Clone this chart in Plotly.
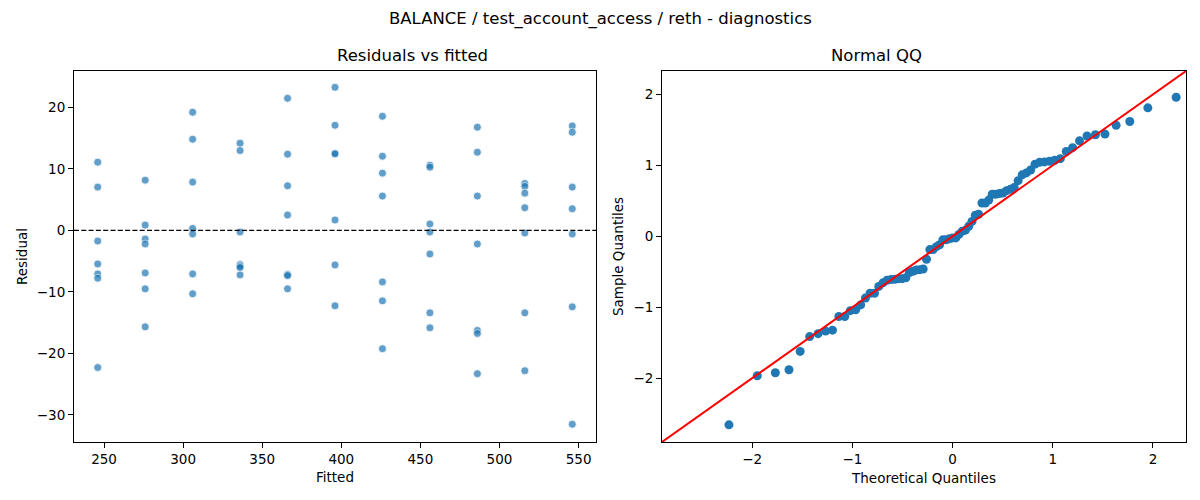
import numpy as np
import plotly.graph_objects as go
from statistics import NormalDist

# fitted value levels (7 observations each)
fitted_levels = [246, 276, 306, 336, 366, 396, 426, 456, 486, 516, 546]

residuals = [
    11.08, 7.03, -1.73, -5.46, -7.08, -7.78, -22.30,     # 246
    8.16, 0.86, -1.41, -2.22, -6.92, -9.51, -15.68,      # 276
    19.19, 14.81, 7.84, 0.32, -0.59, -7.08, -10.32,      # 306
    14.16, 12.97, -0.27, -5.57, -5.85, -6.05, -7.24,     # 336
    21.46, 12.38, 7.24, 2.49, -7.19, -7.35, -9.51,       # 366
    23.24, 17.08, 12.54, 12.43, 1.68, -5.62, -12.27,     # 396
    18.54, 12.05, 9.30, 5.57, -8.38, -11.46, -19.24,     # 426
    10.59, 10.27, 1.03, -0.27, -3.84, -13.41, -15.84,    # 456
    16.76, 12.70, 5.57, -2.22, -16.27, -16.76, -23.30,   # 486
    7.62, 7.14, 6.05, 3.68, -0.43, -13.41, -22.81,       # 516
    16.97, 15.95, 7.03, 3.51, -0.59, -12.43, -31.51,     # 546
]

fitted = np.repeat(fitted_levels, 7)
resid = np.array(residuals)

# normal QQ: standardized sorted residuals vs normal quantiles
n = len(resid)
sample_q = np.sort((resid - resid.mean()) / resid.std())
theor_q = np.array([NormalDist().inv_cdf(i / (n + 1)) for i in range(1, n + 1)])

QQ_LIM = [-2.90, 2.33]
BLUE = "#1f77b4"
FONT = "DejaVu Sans"

# page has an 8px body margin, so the figure is laid out in page pixels minus 8
W, H, OFF = 1192, 492, 8


def px_x(p):
    return (p - OFF) / W


def px_y(p):
    return 1 - (p - OFF) / H


fig = go.Figure()

fig.add_trace(go.Scatter(
    x=fitted, y=resid, mode="markers",
    marker=dict(size=8, color=BLUE, opacity=0.7, line=dict(color="white", width=0.8)),
    xaxis="x", yaxis="y", showlegend=False,
))
fig.add_trace(go.Scatter(
    x=[231, 561], y=[0, 0], mode="lines",
    line=dict(color="black", width=1.2, dash="5px,2.3px"),
    xaxis="x", yaxis="y", showlegend=False,
))

fig.add_trace(go.Scatter(
    x=theor_q, y=sample_q, mode="markers",
    marker=dict(size=9, color=BLUE),
    xaxis="x2", yaxis="y2", showlegend=False,
))
fig.add_trace(go.Scatter(
    x=QQ_LIM, y=QQ_LIM, mode="lines",
    line=dict(color="red", width=2),
    xaxis="x2", yaxis="y2", showlegend=False,
))

axis_style = dict(
    showline=True, linecolor="black", linewidth=1, mirror=True,
    ticks="outside", ticklen=5, tickwidth=1, tickcolor="black",
    showgrid=False, zeroline=False,
    tickfont=dict(size=13.5, color="black"),
    title_font=dict(size=13.5, color="black"),
)

dom_y = [px_y(442), px_y(71)]

fig.update_layout(
    width=W, height=H,
    margin=dict(l=0, r=0, t=0, b=0),
    paper_bgcolor="white", plot_bgcolor="white",
    font=dict(family=FONT, color="black"),
    xaxis=dict(axis_style, domain=[px_x(74), px_x(596)], range=[231, 561],
               tickvals=[250, 300, 350, 400, 450, 500, 550],
               title=dict(text="Fitted", standoff=6)),
    yaxis=dict(axis_style, domain=dom_y, range=[-34.4, 25.9],
               tickvals=[-30, -20, -10, 0, 10, 20],
               title=dict(text="Residual", standoff=6)),
    xaxis2=dict(axis_style, domain=[px_x(662), px_x(1186)], range=QQ_LIM,
                tickvals=[-2, -1, 0, 1, 2], anchor="y2",
                title=dict(text="Theoretical Quantiles", standoff=7)),
    yaxis2=dict(axis_style, domain=dom_y, range=QQ_LIM,
                tickvals=[-2, -1, 0, 1, 2], anchor="x2",
                title=dict(text="Sample Quantiles", standoff=6)),
    annotations=[
        dict(text="BALANCE / test_account_access / reth - diagnostics",
             x=px_x(600), y=px_y(19), xref="paper", yref="paper",
             showarrow=False, font=dict(size=16.5), yanchor="middle"),
        dict(text="Residuals vs fitted",
             x=px_x(335), y=px_y(56), xref="paper", yref="paper",
             showarrow=False, font=dict(size=16.5), yanchor="middle"),
        dict(text="Normal QQ",
             x=px_x(924), y=px_y(56), xref="paper", yref="paper",
             showarrow=False, font=dict(size=16.5), yanchor="middle"),
    ],
)

fig.write_html("out.html")
